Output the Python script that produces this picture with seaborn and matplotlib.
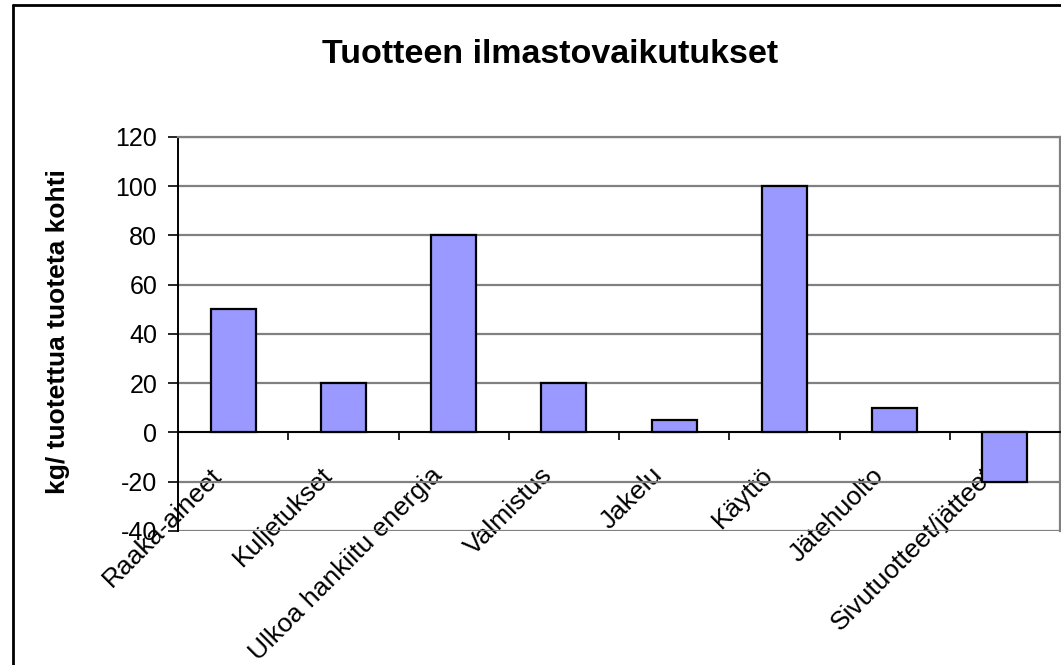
import matplotlib
matplotlib.use("Agg")
import matplotlib.pyplot as plt
import seaborn as sns
import pandas as pd
from matplotlib.lines import Line2D
from matplotlib.ticker import FixedLocator
from matplotlib.transforms import ScaledTranslation

categories = ["Raaka-aineet", "Kuljetukset", "Ulkoa hankiitu energia", "Valmistus",
              "Jakelu", "Käyttö", "Jätehuolto", "Sivutuotteet/jätteet"]
values = [50, 20, 80, 20, 5, 100, 10, -20]
yticks = [-40, -20, 0, 20, 40, 60, 80, 100, 120]
title = "Tuotteen ilmastovaikutukset"
ylabel = "kg/ tuotettua tuoteta kohti"

sns.set_theme(style="white")
plt.rcParams["font.family"] = ["Liberation Sans", "DejaVu Sans"]
plt.rcParams["text.color"] = "black"
plt.rcParams["xtick.color"] = "black"
plt.rcParams["ytick.color"] = "black"
plt.rcParams["axes.labelcolor"] = "black"

W, H = 1061, 665
fig = plt.figure(figsize=(W / 100, H / 100), dpi=100)
ax = fig.add_axes([178 / W, 1 - 531 / H, (1060 - 178) / W, (531 - 137) / H])

df = pd.DataFrame({"cat": categories, "val": values})
sns.barplot(data=df, x="cat", y="val", color="#9999FF", saturation=1,
            edgecolor="black", linewidth=1.6, width=0.41, ax=ax, zorder=3)

ax.set_ylim(-40, 120)
ax.set_xlim(-0.5, len(categories) - 0.5)
ax.set_yticks(yticks)
ax.set_yticklabels([str(t) for t in yticks], fontsize=18, color="black")
ax.yaxis.grid(True, color="#808080", linewidth=1.6, zorder=0)
ax.set_axisbelow(True)

for s in ["top", "right"]:
    ax.spines[s].set_visible(True)
    ax.spines[s].set_color("#808080")
    ax.spines[s].set_linewidth(1.6)
ax.spines["left"].set_color("black")
ax.spines["left"].set_linewidth(1.4)
ax.spines["bottom"].set_position(("data", 0))
ax.spines["bottom"].set_color("black")
ax.spines["bottom"].set_linewidth(1.4)
ax.spines["bottom"].set_zorder(4)

ax.tick_params(axis="y", which="major", left=True, length=7, width=1.2, color="black", pad=8)
ax.xaxis.set_minor_locator(FixedLocator([i + 0.5 for i in range(len(categories) - 1)]))
ax.tick_params(axis="x", which="minor", bottom=True, length=6, width=1.2, color="black", direction="out")
ax.tick_params(axis="x", which="major", bottom=True, length=0, pad=28)
ax.set_xticks(range(len(categories)))
ax.set_xticklabels(categories, fontsize=19, rotation=45, ha="right", va="center",
                   rotation_mode="anchor", color="black")
shift = ScaledTranslation(-15 / 100, 0, fig.dpi_scale_trans)
for lab in ax.get_xticklabels():
    lab.set_transform(lab.get_transform() + shift)
ax.set_xlabel("")
ax.set_ylabel("")

fig.text(550 / W, 1 - 63 / H, title, ha="center", va="baseline", fontsize=24.5,
         fontweight="bold", color="black")
fig.text(58 / W, 1 - 332 / H, ylabel, ha="center", va="center", rotation=90,
         fontsize=19, fontweight="bold", color="black")

fig.add_artist(Line2D([12.5 / W, 12.5 / W], [0, 1 - 5 / H], transform=fig.transFigure,
                      color="black", linewidth=2))
fig.add_artist(Line2D([12.5 / W, 1], [1 - 5 / H, 1 - 5 / H], transform=fig.transFigure,
                      color="black", linewidth=2))

fig.savefig("out.png", dpi=100)
